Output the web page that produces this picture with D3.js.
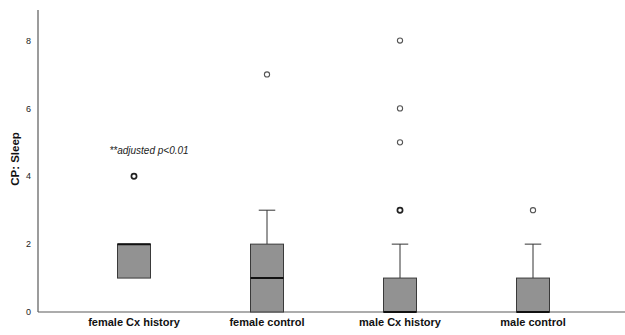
<!DOCTYPE html>
<html><head><meta charset="utf-8">
<script src="https://cdn.jsdelivr.net/npm/d3@7"></script>
<style>body{margin:0;background:#fff}svg{display:block}</style>
</head><body>
<svg id="c" width="625" height="335"></svg>
<script>
const categories = ["female Cx history","female control","male Cx history","male control"];
const q1 =        [1, 0, 0, 0];
const median =    [2, 1, 0, 0];
const q3 =        [2, 2, 1, 1];
const whiskerLo = [1, 0, 0, 0];
const whiskerHi = [2, 3, 2, 2];
const outliers = [[4], [7], [3, 5, 6, 8], [3]];
const outlierCounts = [[2], [1], [2, 1, 1, 1], [1]];
const yTicks = [0, 2, 4, 6, 8];
const annotation = "**adjusted p<0.01";
const yTitle = "CP: Sleep";

const svg = d3.select("#c");
const x0 = 38, x1 = 625, yTop = 10, yBot = 312;
const y = d3.scaleLinear().domain([0, 8.9]).range([yBot, yTop]);
const x = d3.scalePoint().domain(categories).range([134, 533]);
const bw = 33;

// axes
svg.append("line").attr("x1", x0).attr("x2", x0).attr("y1", yTop).attr("y2", yBot).attr("stroke", "#5a5a5a").attr("stroke-width", 1.2);
svg.append("line").attr("x1", x0).attr("x2", x1).attr("y1", yBot).attr("y2", yBot).attr("stroke", "#5a5a5a").attr("stroke-width", 1.2);

svg.selectAll(".yt").data(yTicks).enter().append("text")
  .attr("x", x0 - 7).attr("y", d => y(d)).attr("dy", "0.35em").attr("text-anchor", "end")
  .attr("font-family", "Liberation Sans, Arial, sans-serif").attr("font-size", 9).attr("fill", "#222").text(d => d);

svg.append("text").attr("transform", `translate(19,${(yTop + yBot) / 2 - 2}) rotate(-90)`)
  .attr("text-anchor", "middle").attr("font-family", "Liberation Sans, Arial, sans-serif")
  .attr("font-weight", "bold").attr("font-size", 11.5).attr("fill", "#111").text(yTitle);

svg.selectAll(".xt").data(categories).enter().append("text")
  .attr("x", d => x(d)).attr("y", 326).attr("text-anchor", "middle")
  .attr("font-family", "Liberation Sans, Arial, sans-serif").attr("font-weight", "bold").attr("font-size", 11)
  .attr("fill", "#111").text(d => d);

const g = svg.selectAll(".box").data(categories).enter().append("g");
g.each(function (d, i) {
  const s = d3.select(this);
  const cx = x(d);
  if (whiskerHi[i] > q3[i]) {
    s.append("line").attr("x1", cx).attr("x2", cx).attr("y1", y(q3[i])).attr("y2", y(whiskerHi[i])).attr("stroke", "#333");
    s.append("line").attr("x1", cx - bw * 0.25).attr("x2", cx + bw * 0.25).attr("y1", y(whiskerHi[i])).attr("y2", y(whiskerHi[i])).attr("stroke", "#333");
  }
  if (whiskerLo[i] < q1[i]) {
    s.append("line").attr("x1", cx).attr("x2", cx).attr("y1", y(q1[i])).attr("y2", y(whiskerLo[i])).attr("stroke", "#333");
  }
  s.append("rect").attr("x", cx - bw / 2).attr("width", bw).attr("y", y(q3[i])).attr("height", y(q1[i]) - y(q3[i]))
    .attr("fill", "#929292").attr("stroke", "#3a3a3a").attr("stroke-width", 1);
  s.append("line").attr("x1", cx - bw / 2).attr("x2", cx + bw / 2).attr("y1", y(median[i])).attr("y2", y(median[i]))
    .attr("stroke", "#111").attr("stroke-width", 2);
  outliers[i].forEach((v, k) => {
    s.append("circle").attr("cx", cx).attr("cy", y(v)).attr("r", 2.6).attr("fill", "#fff")
      .attr("stroke", outlierCounts[i][k] > 1 ? "#222" : "#555").attr("stroke-width", outlierCounts[i][k] > 1 ? 1.7 : 1.1);
  });
});

svg.append("text").attr("x", x(categories[0]) + 15).attr("y", y(4.75)).attr("dy", "0.35em").attr("text-anchor", "middle")
  .attr("font-family", "Liberation Sans, Arial, sans-serif").attr("font-style", "italic").attr("font-size", 10)
  .attr("fill", "#222").text(annotation);
</script>
</body></html>
